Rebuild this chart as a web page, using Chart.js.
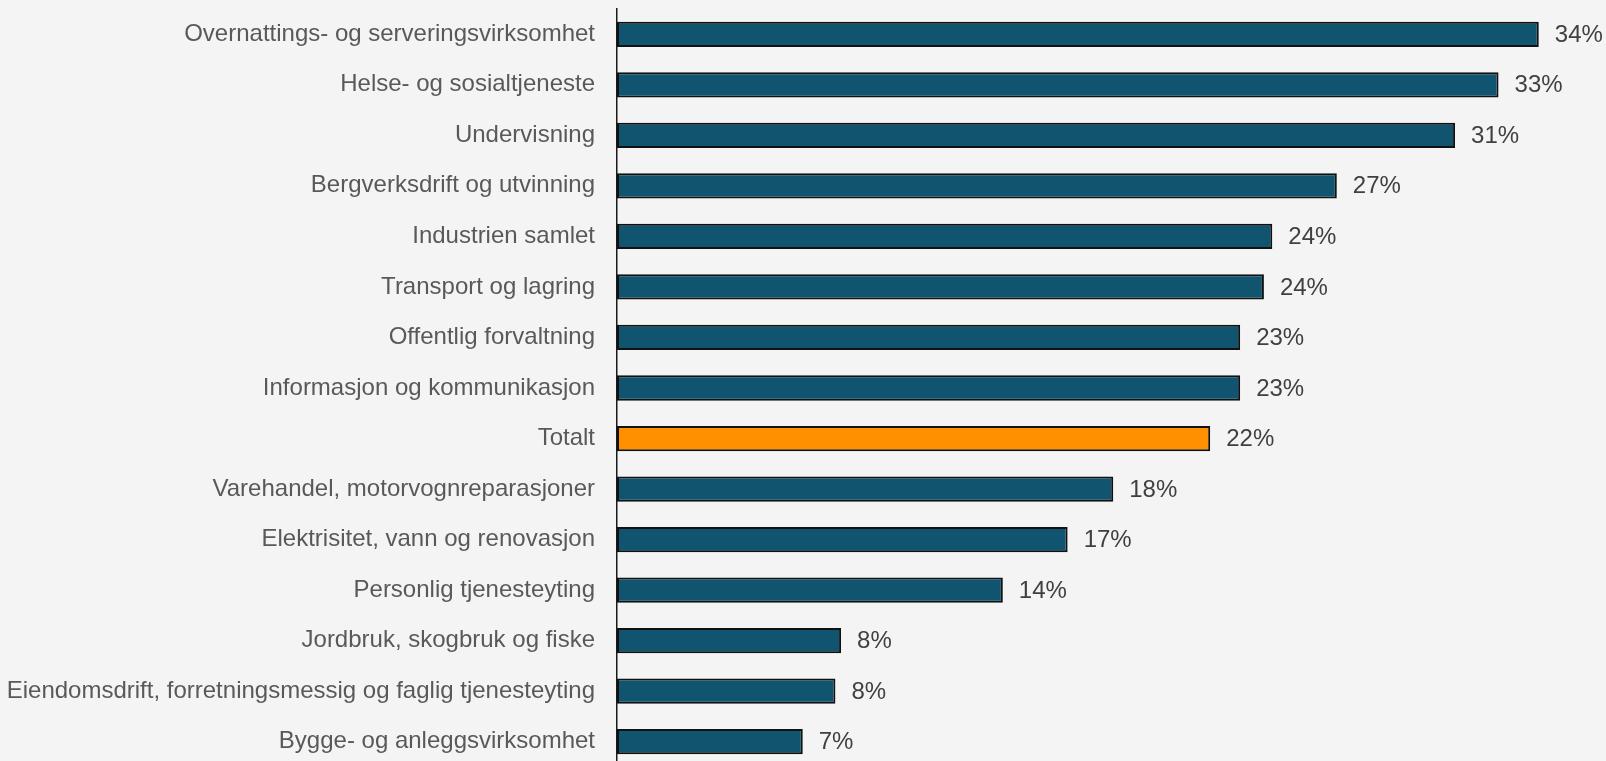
<!DOCTYPE html>
<html>
<head>
<meta charset="utf-8">
<script src="https://cdn.jsdelivr.net/npm/chart.js@4.4.1/dist/chart.umd.min.js"></script>
<style>
  html, body { margin: 0; padding: 0; background: #f4f4f4; overflow: hidden; }
  #wrap { width: 1606px; height: 767px; position: relative; }
</style>
</head>
<body>
<div id="wrap"><canvas id="mycanvas"></canvas></div>
<script>
// næringer, sortert synkende (Totalt markert)
var categories = [
  "Overnattings- og serveringsvirksomhet",
  "Helse- og sosialtjeneste",
  "Undervisning",
  "Bergverksdrift og utvinning",
  "Industrien samlet",
  "Transport og lagring",
  "Offentlig forvaltning",
  "Informasjon og kommunikasjon",
  "Totalt",
  "Varehandel, motorvognreparasjoner",
  "Elektrisitet, vann og renovasjon",
  "Personlig tjenesteyting",
  "Jordbruk, skogbruk og fiske",
  "Eiendomsdrift, forretningsmessig og faglig tjenesteyting",
  "Bygge- og anleggsvirksomhet"
];
var shares = [34.14, 32.65, 31.04, 26.66, 24.27, 23.96, 23.08, 23.08, 21.97, 18.38, 16.69, 14.29, 8.30, 8.09, 6.88];
var highlight = "Totalt";

var barColors = categories.map(function(c){ return c == highlight ? "#ff9100" : "#10546f"; });

var fontFam = "'Liberation Sans', Arial, sans-serif";

// prosent-etiketter til høyre for søylene
var valueLabels = {
  id: "valueLabels",
  afterDatasetsDraw: function(chart) {
    var ctx = chart.ctx;
    var meta = chart.getDatasetMeta(0);
    ctx.save();
    ctx.font = "24px " + fontFam;
    ctx.fillStyle = "#404040";
    ctx.textAlign = "left";
    ctx.textBaseline = "middle";
    meta.data.forEach(function(bar, i) {
      ctx.fillText(Math.round(shares[i]) + "%", bar.x + 16, bar.y + 1);
    });
    ctx.restore();
  }
};

var ctx = document.getElementById("mycanvas");
var chart = new Chart(ctx, {
  type: "bar",
  data: {
    labels: categories,
    datasets: [{
      data: shares,
      backgroundColor: barColors,
      borderColor: "#111111",
      borderWidth: 2,
      borderSkipped: false,
      barPercentage: 0.5,
      categoryPercentage: 1.0
    }]
  },
  options: {
    indexAxis: "y",
    responsive: true,
    maintainAspectRatio: false,
    animation: false,
    layout: { padding: { top: 9, right: 17, bottom: 0, left: 0 } },
    plugins: {
      legend: { display: false },
      tooltip: { enabled: false }
    },
    scales: {
      x: {
        display: false,
        min: 0,
        max: 36
      },
      y: {
        afterFit: function(scale) {
          scale.width = 617;
          scale.paddingTop = 0;
          scale.paddingBottom = 0;
        },
        grid: { display: false, drawTicks: false },
        border: { display: true, color: "#1a1a1a", width: 1.5 },
        ticks: {
          padding: 22,
          color: "#595959",
          font: { family: fontFam, size: 24 }
        }
      }
    }
  },
  plugins: [valueLabels]
});
</script>
</body>
</html>
